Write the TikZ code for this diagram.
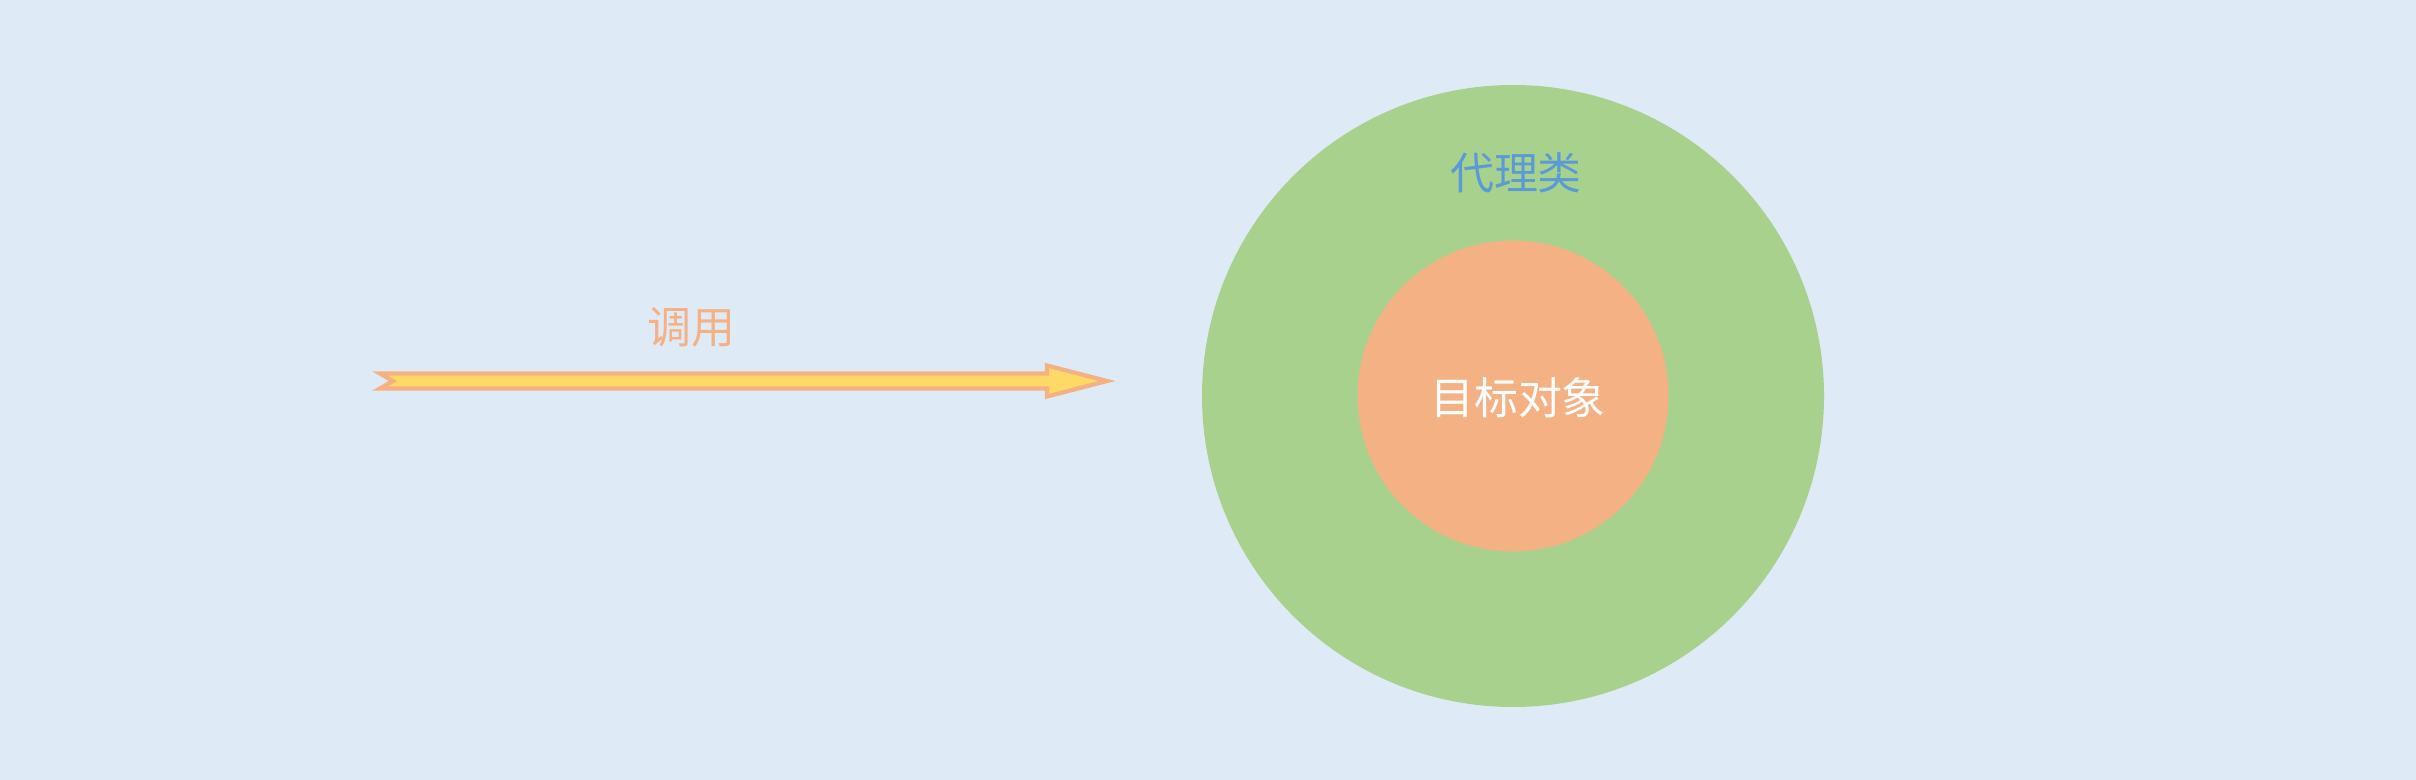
\documentclass[tikz,border=0pt]{standalone}
\usepackage{fontspec}
\newfontfamily\cjk{Noto Sans CJK SC}
\usetikzlibrary{calc, positioning}
\definecolor{bgblue}{RGB}{222, 235, 247}
\definecolor{proxygreen}{RGB}{169, 209, 142}
\definecolor{targetorange}{RGB}{244, 177, 131}
\definecolor{labelblue}{RGB}{91, 155, 213}
\definecolor{arrowyellow}{RGB}{255, 217, 102}

\begin{document}
\begin{tikzpicture}[
    ring/.style={circle, inner sep=0pt},
    cjklabel/.style={font=\cjk\fontsize{12.5pt}{15pt}\selectfont, inner sep=0pt},
    callarrow/.style={draw=targetorange, fill=arrowyellow, line width=1.2pt, line join=miter}
  ]
  % background and page size
  \fill[bgblue] (0,0) rectangle (24.16,-7.8);
  \useasboundingbox (0,0) rectangle (24.16,-7.8);

  % proxy class with target object inside
  \node[ring, fill=proxygreen, minimum size=6.22cm] (proxy) at (15.13,-3.96) {};
  \node[ring, fill=targetorange, minimum size=3.11cm] (target) at (proxy.center) {};
  \node[cjklabel, text=labelblue] (proxylabel) at (15.16,-1.73) {代理类};
  \node[cjklabel, text=white] (targetlabel) at (15.18,-3.98) {目标对象};

  % call arrow
  \coordinate (calltail) at (3.80,-3.81);
  \coordinate (callhead) at (11.07,-3.81);
  \draw[callarrow] ($(calltail)+(0,0.075)$) -- ($(callhead)+(-0.6,0.075)$)
    -- ($(callhead)+(-0.6,0.155)$) -- (callhead)
    -- ($(callhead)+(-0.6,-0.155)$) -- ($(callhead)+(-0.6,-0.075)$)
    -- ($(calltail)+(0,-0.075)$) -- ($(calltail)+(0.13,0)$) -- cycle;
  \node[cjklabel, text=targetorange] (calllabel) at (6.91,-3.27) {调用};
\end{tikzpicture}
\end{document}
